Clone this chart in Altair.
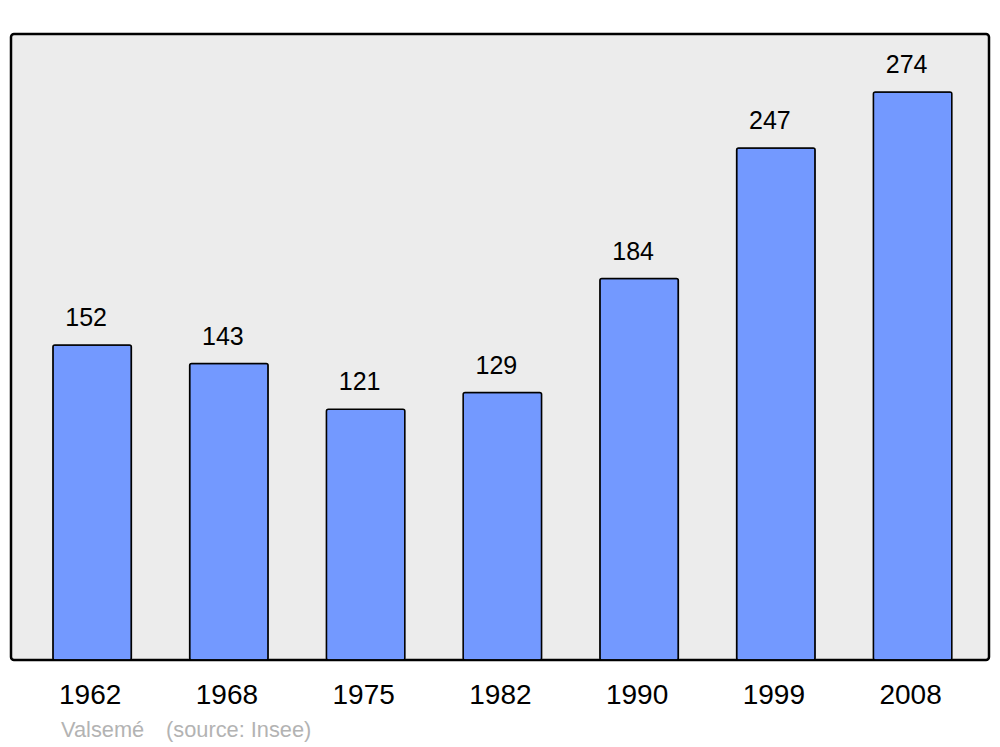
import altair as alt
import pandas as pd

years = ["1962", "1968", "1975", "1982", "1990", "1999", "2008"]
population = [152, 143, 121, 129, 184, 247, 274]
credit = ["Valsemé"]
source = ["(source: Insee)"]

df = pd.DataFrame({"year": years, "pop": population})

x = alt.X(
    "year:N",
    sort=years,
    scale=alt.Scale(paddingInner=0.426, paddingOuter=0.289, align=0.53),
    axis=alt.Axis(
        title=None, labelAngle=0, labelFontSize=28, labelColor="black",
        labelFont="Liberation Sans", domain=False, ticks=False, tickSize=0,
        labelPadding=21, labelOffset=-2, grid=False,
    ),
)
y = alt.Y("pop:Q", scale=alt.Scale(domain=[0, 302], nice=False, zero=True), axis=None)

bars = alt.Chart(df).mark_bar(
    color="#7399ff", stroke="black", strokeWidth=1.5, cornerRadius=2
).encode(x=x, y=y)

labels = alt.Chart(df).mark_text(
    font="Liberation Sans", fontSize=25, baseline="alphabetic", dy=-19, dx=-6, color="black"
).encode(x=x, y=y, text="pop:Q")

credit_text = alt.Chart(pd.DataFrame({"t": credit})).mark_text(
    font="Liberation Sans", fontSize=21.8, baseline="alphabetic", align="left", color="#b3b3b3"
).encode(text="t:N", x=alt.value(50), y=alt.value(703))

source_text = alt.Chart(pd.DataFrame({"t": source})).mark_text(
    font="Liberation Sans", fontSize=21.8, baseline="alphabetic", align="left", color="#b3b3b3"
).encode(text="t:N", x=alt.value(155), y=alt.value(703))

chart = alt.layer(bars, labels, credit_text, source_text).properties(
    width=978,
    height=626,
    autosize=alt.AutoSizeParams(type="none"),
    padding={"left": 3, "top": 26, "right": 3, "bottom": 96},
    background="white",
).configure_view(
    fill="#ececec", stroke="black", strokeWidth=2.5, cornerRadius=3
)

chart.save("out.html", embed_options={"renderer": "svg", "actions": False})
